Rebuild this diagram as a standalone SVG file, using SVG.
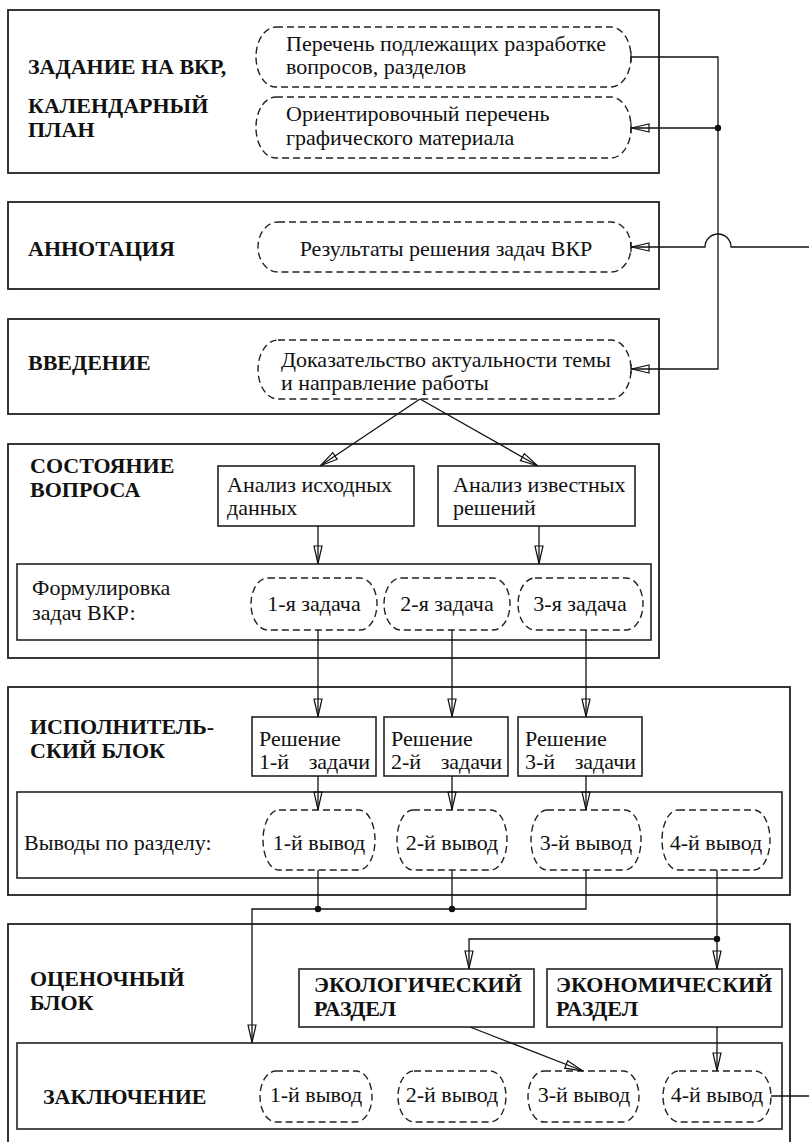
<svg xmlns="http://www.w3.org/2000/svg" width="809" height="1142" viewBox="0 0 809 1142">
<style>
.blk{fill:#fff;stroke:#222;stroke-width:1.8}
.inr{fill:none;stroke:#222;stroke-width:1.6}
.box{fill:#fff;stroke:#222;stroke-width:1.6}
.pill{fill:none;stroke:#222;stroke-width:1.4;stroke-dasharray:7 4}
.t{font-family:"Liberation Serif","Times New Roman",serif;font-size:22px;fill:#111}
.b{font-family:"Liberation Serif","Times New Roman",serif;font-size:22px;font-weight:bold;fill:#111}
.c{text-anchor:middle}
.ln{fill:none;stroke:#111;stroke-width:1.3}
.arr{marker-end:url(#ar)}
.dot{fill:#111}
</style>
<defs>
<marker id="ar" markerUnits="userSpaceOnUse" viewBox="-1 -6 20 12" refX="18" refY="0" markerWidth="20" markerHeight="12" orient="auto">
<path d="M0,-4 L17.5,0 L0,4 Z" fill="none" stroke="#111" stroke-width="1.2"/>
</marker>
<marker id="art" markerUnits="userSpaceOnUse" viewBox="-1 -6 20 12" refX="18" refY="0" markerWidth="20" markerHeight="12" orient="auto">
<path d="M0,-4 L17.5,0 L0,4 Z M18,-5 V5" fill="none" stroke="#111" stroke-width="1.2"/>
</marker>
<marker id="tk" markerUnits="userSpaceOnUse" viewBox="-2 -6 4 12" refX="0" refY="0" markerWidth="4" markerHeight="12" orient="auto">
<path d="M0,-5 V5" fill="none" stroke="#111" stroke-width="1.2"/>
</marker>
</defs>

<g id="block1">
<rect class="blk" x="8" y="10" width="651" height="163"/>
<text class="b" x="28" y="74">ЗАДАНИЕ НА ВКР,</text>
<text class="b" x="28" y="113">КАЛЕНДАРНЫЙ</text>
<text class="b" x="28" y="137">ПЛАН</text>
</g>
<g id="pill-perechen">
<rect class="pill" x="256" y="27" width="375" height="60" rx="20" ry="30"/>
<text class="t" x="286" y="51">Перечень подлежащих разработке</text>
<text class="t" x="286" y="74">вопросов, разделов</text>
</g>
<g id="pill-graph">
<rect class="pill" x="256" y="97" width="375" height="61" rx="20" ry="30"/>
<text class="t" x="286" y="121">Ориентировочный перечень</text>
<text class="t" x="286" y="145">графического материала</text>
</g>

<g id="block2">
<rect class="blk" x="8" y="202" width="651" height="87"/>
<text class="b" x="28" y="256">АННОТАЦИЯ</text>
</g>
<g id="pill-results">
<rect class="pill" x="258" y="222" width="373" height="50" rx="20" ry="25"/>
<text class="t c" x="446" y="256">Результаты решения задач ВКР</text>
</g>

<g id="block3">
<rect class="blk" x="8" y="319" width="651" height="95"/>
<text class="b" x="28" y="370">ВВЕДЕНИЕ</text>
</g>
<g id="pill-intro">
<rect class="pill" x="258" y="340" width="373" height="59" rx="20" ry="29.5"/>
<text class="t" x="281" y="367">Доказательство актуальности темы</text>
<text class="t" x="281" y="390">и направление работы</text>
</g>

<g id="block4">
<rect class="blk" x="8" y="444" width="651" height="214"/>
<text class="b" x="30" y="473">СОСТОЯНИЕ</text>
<text class="b" x="30" y="497">ВОПРОСА</text>
</g>
<g id="box-analiz1">
<rect class="box" x="218" y="466" width="196" height="60"/>
<text class="t" x="227" y="492">Анализ исходных</text>
<text class="t" x="227" y="515">данных</text>
</g>
<g id="box-analiz2">
<rect class="box" x="438" y="466" width="197" height="60"/>
<text class="t" x="453" y="492">Анализ известных</text>
<text class="t" x="453" y="515">решений</text>
</g>
<g id="formul">
<rect class="inr" x="17" y="564" width="634" height="76"/>
<text class="t" x="32" y="595">Формулировка</text>
<text class="t" x="32" y="620">задач ВКР:</text>
</g>
<g id="task1">
<rect class="pill" x="251" y="578" width="126" height="52" rx="17" ry="26"/>
<text class="t c" x="314" y="611">1-я задача</text>
</g>
<g id="task2">
<rect class="pill" x="384" y="578" width="126" height="52" rx="17" ry="26"/>
<text class="t c" x="447" y="611">2-я задача</text>
</g>
<g id="task3">
<rect class="pill" x="518" y="578" width="125" height="52" rx="17" ry="26"/>
<text class="t c" x="580" y="611">3-я задача</text>
</g>

<g id="block5">
<rect class="blk" x="8" y="687" width="782" height="208"/>
<text class="b" x="30" y="734">ИСПОЛНИТЕЛЬ-</text>
<text class="b" x="30" y="758">СКИЙ БЛОК</text>
</g>
<g id="sol1">
<rect class="box" x="252" y="717" width="124" height="59"/>
<text class="t" x="259" y="746">Решение</text>
<text class="t" x="259" y="769">1-й</text>
<text class="t" x="370" y="769" text-anchor="end">задачи</text>
</g>
<g id="sol2">
<rect class="box" x="384" y="717" width="124" height="59"/>
<text class="t" x="391" y="746">Решение</text>
<text class="t" x="391" y="769">2-й</text>
<text class="t" x="502" y="769" text-anchor="end">задачи</text>
</g>
<g id="sol3">
<rect class="box" x="518" y="717" width="124" height="59"/>
<text class="t" x="525" y="746">Решение</text>
<text class="t" x="525" y="769">3-й</text>
<text class="t" x="636" y="769" text-anchor="end">задачи</text>
</g>
<g id="vyvody">
<rect class="inr" x="17" y="792" width="765" height="86"/>
<text class="t" x="24" y="850">Выводы по разделу:</text>
</g>
<g id="v1"><rect class="pill" x="263" y="810" width="112" height="60" rx="16" ry="30"/><text class="t c" x="319" y="850">1-й вывод</text></g>
<g id="v2"><rect class="pill" x="397" y="810" width="110" height="60" rx="16" ry="30"/><text class="t c" x="452" y="850">2-й вывод</text></g>
<g id="v3"><rect class="pill" x="531" y="810" width="110" height="60" rx="16" ry="30"/><text class="t c" x="586" y="850">3-й вывод</text></g>
<g id="v4"><rect class="pill" x="662" y="810" width="108" height="60" rx="16" ry="30"/><text class="t c" x="716" y="850">4-й вывод</text></g>

<g id="block6">
<rect class="blk" x="8" y="924" width="782" height="230"/>
<text class="b" x="30" y="986">ОЦЕНОЧНЫЙ</text>
<text class="b" x="30" y="1010">БЛОК</text>
</g>
<g id="eco">
<rect class="box" x="299" y="969" width="235" height="58"/>
<text class="b" x="314" y="992">ЭКОЛОГИЧЕСКИЙ</text>
<text class="b" x="314" y="1016">РАЗДЕЛ</text>
</g>
<g id="econ">
<rect class="box" x="547" y="969" width="235" height="58"/>
<text class="b" x="556" y="992">ЭКОНОМИЧЕСКИЙ</text>
<text class="b" x="556" y="1016">РАЗДЕЛ</text>
</g>
<g id="zakl">
<rect class="inr" x="17" y="1043" width="765" height="86"/>
<text class="b" x="43" y="1104">ЗАКЛЮЧЕНИЕ</text>
</g>
<g id="z1"><rect class="pill" x="260" y="1071" width="112" height="51" rx="16" ry="25.5"/><text class="t c" x="316" y="1102">1-й вывод</text></g>
<g id="z2"><rect class="pill" x="398" y="1071" width="108" height="51" rx="16" ry="25.5"/><text class="t c" x="452" y="1102">2-й вывод</text></g>
<g id="z3"><rect class="pill" x="528" y="1071" width="111" height="51" rx="16" ry="25.5"/><text class="t c" x="584" y="1102">3-й вывод</text></g>
<g id="z4"><rect class="pill" x="663" y="1071" width="108" height="51" rx="16" ry="25.5"/><text class="t c" x="717" y="1102">4-й вывод</text></g>

<g id="connectors">
<path class="ln" d="M631,57 H718 V369 H631" marker-start="url(#tk)" marker-end="url(#art)"/>
<path class="ln" d="M718,128 H631" marker-end="url(#art)"/>
<path class="ln" d="M809,247 H731 A13,13 0 0 0 705,247 H631" marker-end="url(#art)"/>
<path class="ln arr" d="M420,399 L320,466"/>
<path class="ln arr" d="M420,399 L538,466"/>
<path class="ln arr" d="M318,526 V564"/>
<path class="ln arr" d="M539,526 V564"/>
<path class="ln arr" d="M318,630 V717"/>
<path class="ln arr" d="M452,630 V717"/>
<path class="ln arr" d="M586,630 V717"/>
<path class="ln arr" d="M318,776 V810"/>
<path class="ln arr" d="M452,776 V810"/>
<path class="ln arr" d="M586,776 V810"/>
<path class="ln" d="M318,870 V909"/>
<path class="ln" d="M452,870 V909"/>
<path class="ln arr" d="M586,870 V909 H252 V1043"/>
<path class="ln arr" d="M717,870 V969"/>
<path class="ln arr" d="M717,939 H469 V969"/>
<path class="ln arr" d="M470,1027 L583,1071"/>
<path class="ln arr" d="M717,1027 V1071"/>
<path class="ln" d="M771,1096 H809"/>
<circle class="dot" cx="718" cy="128" r="3.2"/>
<circle class="dot" cx="318" cy="909" r="3.2"/>
<circle class="dot" cx="452" cy="909" r="3.2"/>
<circle class="dot" cx="717" cy="939" r="3.2"/>
</g>
</svg>
